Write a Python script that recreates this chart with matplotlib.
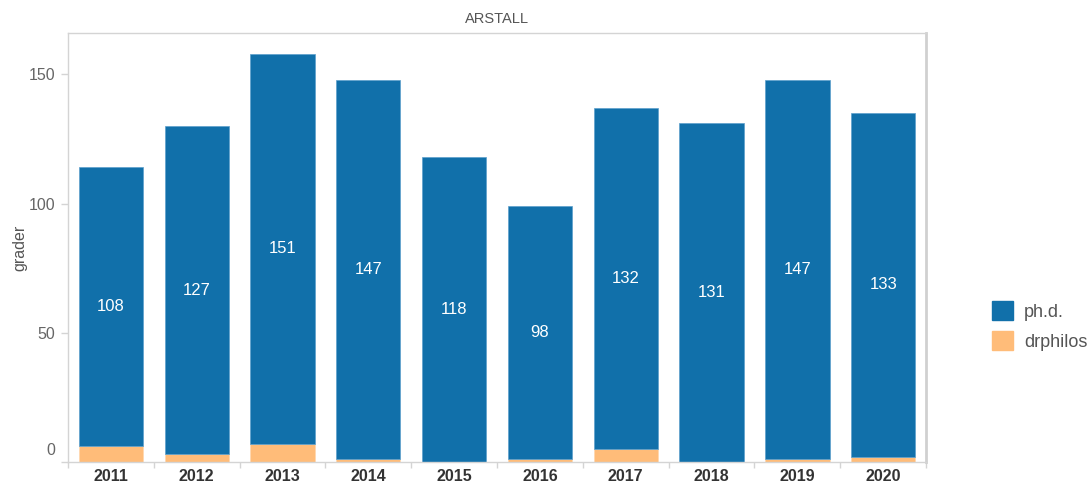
import numpy as np
import matplotlib.pyplot as plt
from matplotlib.patches import Patch
from matplotlib.transforms import ScaledTranslation

plt.rcParams['font.family'] = ['Liberation Sans', 'DejaVu Sans']

years = ['2011', '2012', '2013', '2014', '2015', '2016', '2017', '2018', '2019', '2020']
phd = [108, 127, 151, 147, 118, 98, 132, 131, 147, 133]
drphilos = [6, 3, 7, 1, 0, 1, 5, 0, 1, 2]

blue = '#1170aa'
orange = '#ffbc79'
grey = '#d4d4d4'

fig = plt.figure(figsize=(10.91, 4.83), dpi=100)
ax = fig.add_axes([0.0623, 0.0435, 0.7865, 0.8882])

x = np.arange(len(years))
ax.bar(x, drphilos, width=0.75, color=orange, edgecolor='#ffd6ad', linewidth=0.5)
ax.bar(x, phd, width=0.75, bottom=drphilos, color=blue, edgecolor='#5d9fcc', linewidth=0.5)

for i in range(len(years)):
    ax.text(x[i], drphilos[i] + phd[i] / 2, str(phd[i]), color='white',
            ha='center', va='center', fontsize=12)

ax.set_xlim(-0.5, len(years) - 0.5)
ax.set_ylim(0, 166)

# x axis: labels at bar centres, small ticks at category borders
ax.set_xticks(x)
ax.set_xticklabels(years, fontsize=11.5, fontweight='bold', color='#333333')
ax.tick_params(axis='x', which='major', length=0, pad=5)
ax.set_xticks(np.arange(-0.5, len(years)), minor=True)
ax.tick_params(axis='x', which='minor', length=4, color=grey, width=1)

ax.set_yticks([0, 50, 100, 150])
ax.set_yticklabels(['0', '50', '100', '150'], fontsize=11.5, color='#666666')
ax.tick_params(axis='y', length=5, color=grey, width=1, pad=4)
lab0 = ax.get_yticklabels()[0]
lab0.set_transform(lab0.get_transform() + ScaledTranslation(0, 9 / 72, fig.dpi_scale_trans))

for s in ['left', 'top', 'bottom']:
    ax.spines[s].set_color(grey)
    ax.spines[s].set_linewidth(1)
ax.spines['right'].set_color('#d0d0d0')
ax.spines['right'].set_linewidth(2)

ax.set_ylabel('grader', fontsize=11.5, color='#555555', labelpad=1)
ax.set_title('ARSTALL', fontsize=10.5, color='#555555', pad=7)

handles = [Patch(facecolor=blue, edgecolor=blue), Patch(facecolor=orange, edgecolor=orange)]
fig.legend(handles, ['ph.d.', 'drphilos'], loc='center left', bbox_to_anchor=(0.894, 0.325),
           frameon=False, fontsize=13, labelcolor='#555555', handlelength=1.2,
           handleheight=1.2, handletextpad=0.6, labelspacing=0.6)

fig.savefig('out.png', dpi=100)
